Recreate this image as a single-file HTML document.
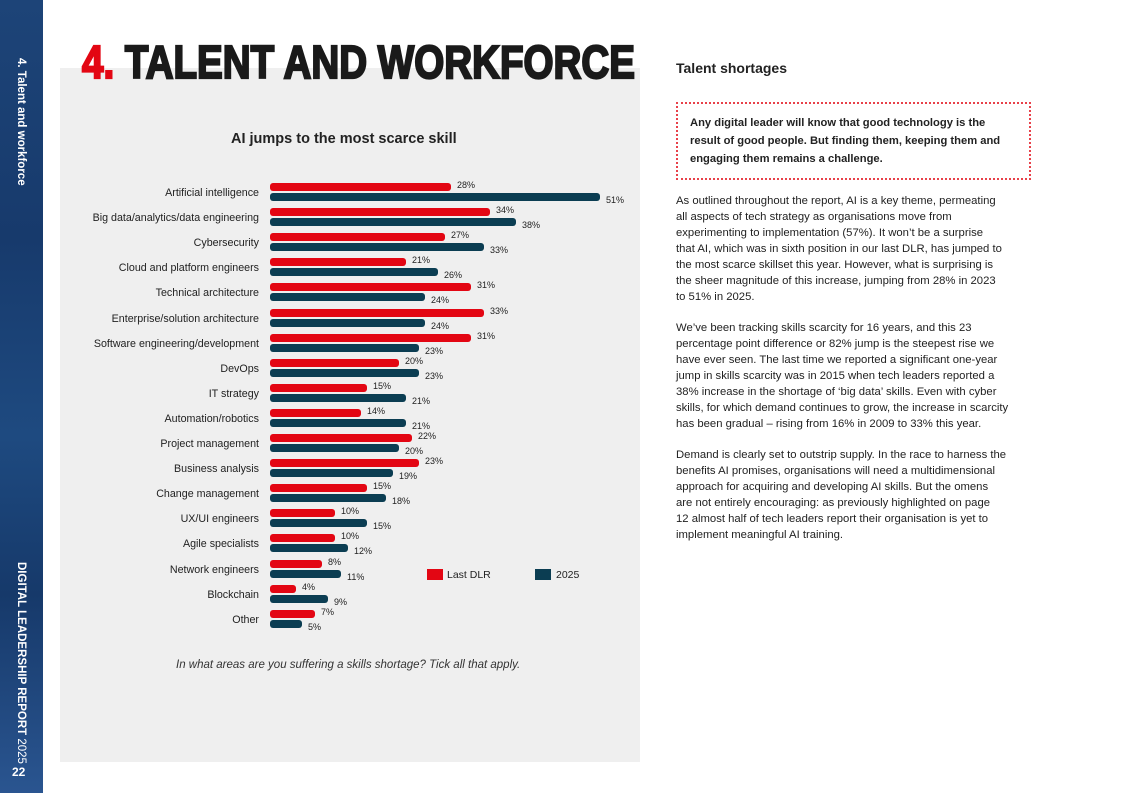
<!DOCTYPE html>
<html><head><meta charset="utf-8"><style>
*{margin:0;padding:0;box-sizing:border-box}
body{width:1121px;height:793px;background:#fff;position:relative;overflow:hidden;font-family:"Liberation Sans",sans-serif;color:#222}
.side{position:absolute;left:0;top:0;width:43px;height:793px;background:linear-gradient(180deg,#1d4478 0%,#173a6c 30%,#1e4a80 55%,#16396a 75%,#2a5590 100%)}
.vt{position:absolute;color:#fff;font-weight:bold;font-size:11.5px;transform:rotate(90deg);transform-origin:0 0;white-space:nowrap}
.panel{position:absolute;left:60px;top:68px;width:580px;height:694px;background:#efefef}
.r{position:absolute;left:0;width:640px;height:20px}
.l{position:absolute;right:381px;top:5px;font-size:10.7px;color:#222;white-space:nowrap}
.a,.b{position:absolute;left:270px;height:9px;display:flex;align-items:center;font-size:9px;white-space:nowrap}
.a{top:0}.b{top:10px}
.a i,.b i{display:inline-block;height:8px;border-radius:3px;margin-right:6px}
.a i{background:#e30613}.b i{background:#0b3d52}
.a span{position:relative;top:-2px}.b span{position:relative;top:3px}
.txt{position:absolute;left:676px;font-size:11.3px;line-height:16px;color:#222}
</style></head><body>
<div class="side"></div>
<div class="vt" style="left:27px;top:58px">4. Talent and workforce</div>
<div class="vt" style="left:27px;top:562px">DIGITAL LEADERSHIP REPORT <span style="font-weight:normal">2025</span></div>
<div style="position:absolute;left:12px;top:765px;color:#fff;font-weight:bold;font-size:12px">22</div>
<div class="panel"></div>
<svg style="position:absolute;left:0;top:0" width="660" height="90"><text x="82" y="78" font-family="Liberation Sans" font-weight="bold" font-size="46" textLength="553" lengthAdjust="spacingAndGlyphs" fill="#1a1a1a" stroke="#1a1a1a" stroke-width="2.2"><tspan fill="#e30613" stroke="#e30613">4.</tspan> TALENT AND WORKFORCE</text></svg>
<div style="position:absolute;left:231px;top:131px;font-weight:bold;font-size:14.5px;color:#222">AI jumps to the most scarce skill</div>

<div class="r" style="top:182px"><div class="l">Artificial intelligence</div><div class="a"><i style="width:181px"></i><span>28%</span></div><div class="b"><i style="width:330px"></i><span>51%</span></div></div>
<div class="r" style="top:207px"><div class="l">Big data/analytics/data engineering</div><div class="a"><i style="width:220px"></i><span>34%</span></div><div class="b"><i style="width:246px"></i><span>38%</span></div></div>
<div class="r" style="top:232px"><div class="l">Cybersecurity</div><div class="a"><i style="width:175px"></i><span>27%</span></div><div class="b"><i style="width:214px"></i><span>33%</span></div></div>
<div class="r" style="top:257px"><div class="l">Cloud and platform engineers</div><div class="a"><i style="width:136px"></i><span>21%</span></div><div class="b"><i style="width:168px"></i><span>26%</span></div></div>
<div class="r" style="top:282px"><div class="l">Technical architecture</div><div class="a"><i style="width:201px"></i><span>31%</span></div><div class="b"><i style="width:155px"></i><span>24%</span></div></div>
<div class="r" style="top:308px"><div class="l">Enterprise/solution architecture</div><div class="a"><i style="width:214px"></i><span>33%</span></div><div class="b"><i style="width:155px"></i><span>24%</span></div></div>
<div class="r" style="top:333px"><div class="l">Software engineering/development</div><div class="a"><i style="width:201px"></i><span>31%</span></div><div class="b"><i style="width:149px"></i><span>23%</span></div></div>
<div class="r" style="top:358px"><div class="l">DevOps</div><div class="a"><i style="width:129px"></i><span>20%</span></div><div class="b"><i style="width:149px"></i><span>23%</span></div></div>
<div class="r" style="top:383px"><div class="l">IT strategy</div><div class="a"><i style="width:97px"></i><span>15%</span></div><div class="b"><i style="width:136px"></i><span>21%</span></div></div>
<div class="r" style="top:408px"><div class="l">Automation/robotics</div><div class="a"><i style="width:91px"></i><span>14%</span></div><div class="b"><i style="width:136px"></i><span>21%</span></div></div>
<div class="r" style="top:433px"><div class="l">Project management</div><div class="a"><i style="width:142px"></i><span>22%</span></div><div class="b"><i style="width:129px"></i><span>20%</span></div></div>
<div class="r" style="top:458px"><div class="l">Business analysis</div><div class="a"><i style="width:149px"></i><span>23%</span></div><div class="b"><i style="width:123px"></i><span>19%</span></div></div>
<div class="r" style="top:483px"><div class="l">Change management</div><div class="a"><i style="width:97px"></i><span>15%</span></div><div class="b"><i style="width:116px"></i><span>18%</span></div></div>
<div class="r" style="top:508px"><div class="l">UX/UI engineers</div><div class="a"><i style="width:65px"></i><span>10%</span></div><div class="b"><i style="width:97px"></i><span>15%</span></div></div>
<div class="r" style="top:533px"><div class="l">Agile specialists</div><div class="a"><i style="width:65px"></i><span>10%</span></div><div class="b"><i style="width:78px"></i><span>12%</span></div></div>
<div class="r" style="top:559px"><div class="l">Network engineers</div><div class="a"><i style="width:52px"></i><span>8%</span></div><div class="b"><i style="width:71px"></i><span>11%</span></div></div>
<div class="r" style="top:584px"><div class="l">Blockchain</div><div class="a"><i style="width:26px"></i><span>4%</span></div><div class="b"><i style="width:58px"></i><span>9%</span></div></div>
<div class="r" style="top:609px"><div class="l">Other</div><div class="a"><i style="width:45px"></i><span>7%</span></div><div class="b"><i style="width:32px"></i><span>5%</span></div></div>

<div style="position:absolute;left:427px;top:569px;width:16px;height:11px;background:#e30613"></div>
<div style="position:absolute;left:447px;top:569px;font-size:10.5px">Last DLR</div>
<div style="position:absolute;left:535px;top:569px;width:16px;height:11px;background:#0b3d52"></div>
<div style="position:absolute;left:556px;top:569px;font-size:10.5px">2025</div>
<div style="position:absolute;left:176px;top:659px;font-size:11.5px;font-style:italic;color:#333">In what areas are you suffering a skills shortage? Tick all that apply.</div>

<div style="position:absolute;left:676px;top:60px;font-weight:bold;font-size:14px;color:#222">Talent shortages</div>
<div style="position:absolute;left:676px;top:102px;width:355px;height:78px;border:2px dotted #e8414a"></div>
<div style="position:absolute;left:690px;top:114px;font-weight:bold;font-size:11.2px;line-height:18px;color:#222">Any digital leader will know that good technology is the<br>result of good people. But finding them, keeping them and<br>engaging them remains a challenge.</div>
<div class="txt" style="top:193px">As outlined throughout the report, AI is a key theme, permeating<br>all aspects of tech strategy as organisations move from<br>experimenting to implementation (57%). It won’t be a surprise<br>that AI, which was in sixth position in our last DLR, has jumped to<br>the most scarce skillset this year. However, what is surprising is<br>the sheer magnitude of this increase, jumping from 28% in 2023<br>to 51% in 2025.</div>
<div class="txt" style="top:320px">We’ve been tracking skills scarcity for 16 years, and this 23<br>percentage point difference or 82% jump is the steepest rise we<br>have ever seen. The last time we reported a significant one-year<br>jump in skills scarcity was in 2015 when tech leaders reported a<br>38% increase in the shortage of ‘big data’ skills. Even with cyber<br>skills, for which demand continues to grow, the increase in scarcity<br>has been gradual – rising from 16% in 2009 to 33% this year.</div>
<div class="txt" style="top:447px">Demand is clearly set to outstrip supply. In the race to harness the<br>benefits AI promises, organisations will need a multidimensional<br>approach for acquiring and developing AI skills. But the omens<br>are not entirely encouraging: as previously highlighted on page<br>12 almost half of tech leaders report their organisation is yet to<br>implement meaningful AI training.</div>
</body></html>
